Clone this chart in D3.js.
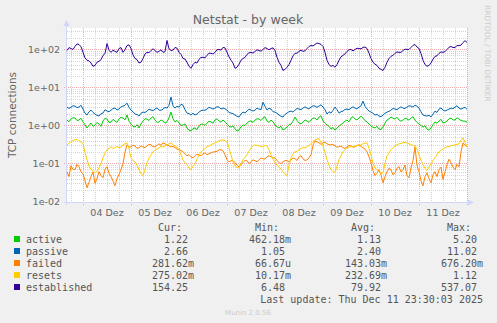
<!DOCTYPE html>
<html><head><meta charset="utf-8">
<script src="https://cdn.jsdelivr.net/npm/d3@7"></script>
<style>html,body{margin:0;padding:0;background:#F0F0F0;}svg{display:block;}</style>
</head><body><svg id="c" width="497" height="323"></svg>
<script>
const title = "Netstat - by week";
const yLabel = "TCP connections";
const seriesNames = ["active","passive","failed","resets","established"];
const seriesColors = ["#00CC00","#0066B3","#FF8000","#FFCC00","#330099"];
const dayLabels = ["04 Dez","05 Dez","06 Dez","07 Dez","08 Dez","09 Dez","10 Dez","11 Dez"];
const yTickValues = [0.01,0.1,1,10,100];
const yTickLabels = ["1e-02","1e-01","1e+00","1e+01","1e+02"];
const curVals = ["1.22","2.66","281.62m","275.02m","154.25"];
const minVals = ["462.18m","1.05","66.67u","10.17m","6.48"];
const avgVals = ["1.13","2.40","143.03m","232.69m","79.92"];
const maxVals = ["5.20","11.02","676.20m","1.12","537.07"];
const lastUpdate = "Last update: Thu Dec 11 23:30:03 2025";
const footer = "Munin 2.0.56";
const sideText = "RRDTOOL / TOBI OETIKER";
// samples at even hours (every 2 h from 2025-12-03 16:00) and at the odd hours in between
const activeEven = [1.39,1.48,1.57,1.39,1.24,0.86,1.16,1.03,1.09,1.31,
1.48,1.24,1.31,1.48,1.57,1.88,1.09,0.91,0.86,1.31,
1.48,1.57,1.39,1.24,1.31,1.24,2.25,1.24,1.16,1.03,
0.86,0.72,0.86,0.97,1.09,1.16,1.24,1.39,1.31,1.39,
1.09,0.91,0.81,0.76,1.03,1.16,1.31,1.39,1.48,1.57,
1.31,1.39,1.03,0.86,0.76,0.91,1.09,1.67,1.16,1.24,
1.31,1.39,1.57,1.67,1.31,1.03,0.81,0.76,0.97,1.16,
1.39,1.57,1.48,1.57,1.57,1.24,0.97,0.86,0.81,0.91,
1.39,1.67,1.48,1.39,1.39,1.48,1.57,1.39,1.09,0.91,
0.81,0.86,1.24,1.31,1.16,1.31,1.57,1.39,1.48,1.31,1.22];
const activeOdd = [1.25,1.60,1.35,1.55,1.05,1.00,0.95,1.20,0.95,1.55,
1.20,1.45,1.20,1.65,1.40,1.30,0.95,1.05,1.10,1.50,
1.35,1.70,1.20,1.40,1.15,1.60,1.50,1.35,1.00,1.10,
0.75,0.82,0.78,1.08,1.00,1.30,1.15,1.50,1.22,1.25,
0.95,0.98,0.72,0.92,1.00,1.28,1.20,1.50,1.35,1.70,
1.20,1.25,0.92,0.95,0.82,1.05,1.30,1.35,1.10,1.40,
1.20,1.55,1.40,1.80,1.15,0.95,0.88,0.85,1.05,1.30,
1.25,1.70,1.40,1.75,1.35,1.10,0.90,0.95,0.78,1.15,
1.50,1.55,1.65,1.30,1.55,1.38,1.70,1.20,1.00,0.98,
0.75,1.05,1.15,1.45,1.20,1.50,1.40,1.60,1.35,1.30];
const passiveEven = [3.05,3.05,3.24,3.05,2.70,1.88,2.54,2.0,1.77,2.12,
2.39,2.54,2.87,2.70,3.24,3.87,2.54,2.0,1.77,2.25,
2.39,2.54,2.70,2.54,2.70,2.87,5.6,2.87,3.05,3.43,
2.12,1.88,1.88,2.25,2.54,2.70,2.87,2.87,3.05,2.87,
2.54,2.12,1.88,1.67,2.25,2.39,2.54,2.54,2.70,4.1,
2.54,2.70,2.25,1.88,1.67,2.12,2.39,2.54,2.70,2.87,
2.87,3.05,3.24,3.24,3.05,2.0,2.12,3.05,2.12,2.39,
2.70,2.87,2.87,3.05,4.37,2.70,2.25,1.88,1.77,1.88,
2.25,2.54,2.70,2.87,2.87,3.05,3.24,3.43,2.87,1.88,
1.77,1.67,2.39,2.70,2.54,2.54,2.87,3.05,2.87,2.87,2.66];
const passiveOdd = [2.80,3.30,2.95,3.40,2.10,2.30,2.20,1.85,2.05,2.60,
2.30,2.80,2.55,3.10,3.40,3.00,2.30,1.95,2.10,2.20,
2.70,2.45,2.90,2.50,3.00,3.40,3.30,3.20,3.60,2.60,
2.05,2.10,2.00,2.45,2.50,3.00,2.70,3.10,2.70,2.75,
2.20,2.05,1.75,2.00,2.15,2.70,2.40,2.85,2.60,3.20,
2.85,2.30,2.10,1.75,1.95,2.30,2.25,2.80,2.60,3.10,
2.75,3.30,3.00,3.50,2.60,2.30,2.50,2.60,2.30,2.65,
2.60,3.10,2.75,3.30,3.20,2.40,2.10,1.95,1.70,2.10,
2.35,2.80,2.60,3.10,2.80,3.30,3.05,3.20,2.30,1.80,
1.85,2.00,2.20,2.90,2.40,2.70,2.75,3.30,2.70,3.00];
const failedEven = [0.061,0.087,0.069,0.082,0.054,0.023,0.045,0.030,0.061,0.042,
0.082,0.045,0.026,0.051,0.098,0.309,0.274,0.29,0.26,0.274,
0.29,0.309,0.274,0.33,0.349,0.309,0.274,0.26,0.229,0.203,
0.16,0.150,0.16,0.169,0.18,0.169,0.191,0.203,0.229,0.216,
0.125,0.118,0.105,0.082,0.105,0.118,0.111,0.118,0.125,0.133,
0.150,0.150,0.141,0.105,0.111,0.118,0.125,0.133,0.150,0.133,
0.125,0.169,0.394,0.349,0.349,0.33,0.309,0.29,0.274,0.26,
0.274,0.29,0.274,0.309,0.26,0.203,0.105,0.048,0.069,0.031,
0.061,0.069,0.057,0.082,0.069,0.048,0.077,0.274,0.061,0.026,
0.057,0.031,0.061,0.069,0.038,0.093,0.105,0.069,0.082,0.349,0.282];
const failedOdd = [0.045,0.070,0.095,0.060,0.035,0.032,0.060,0.040,0.048,0.070,
0.055,0.035,0.040,0.070,0.20,0.27,0.30,0.25,0.29,0.26,
0.32,0.28,0.30,0.30,0.33,0.29,0.28,0.24,0.22,0.18,
0.17,0.14,0.175,0.16,0.19,0.18,0.20,0.21,0.23,0.17,
0.11,0.12,0.09,0.095,0.12,0.10,0.125,0.11,0.14,0.13,
0.16,0.14,0.12,0.10,0.12,0.11,0.14,0.12,0.16,0.12,
0.14,0.30,0.37,0.32,0.36,0.31,0.32,0.27,0.29,0.25,
0.30,0.27,0.30,0.28,0.24,0.15,0.065,0.055,0.05,0.045,
0.075,0.05,0.075,0.06,0.09,0.042,0.12,0.09,0.035,0.045,
0.04,0.05,0.045,0.08,0.06,0.13,0.08,0.095,0.20,0.30];
const resetsEven = [0.309,0.37,0.42,0.394,0.33,0.125,0.069,0.057,0.077,0.141,
0.229,0.274,0.26,0.26,0.309,0.349,0.141,0.111,0.069,0.048,
0.105,0.169,0.229,0.26,0.274,0.309,0.349,0.29,0.229,0.125,
0.093,0.069,0.098,0.169,0.229,0.274,0.309,0.349,0.394,0.42,
0.37,0.169,0.087,0.077,0.125,0.169,0.26,0.309,0.29,0.274,
0.29,0.169,0.105,0.082,0.061,0.048,0.141,0.203,0.229,0.26,
0.274,0.33,0.42,0.444,0.29,0.125,0.069,0.057,0.125,0.203,
0.26,0.274,0.29,0.29,0.33,0.349,0.169,0.077,0.061,0.057,
0.16,0.229,0.29,0.33,0.349,0.349,0.309,0.29,0.169,0.093,
0.065,0.098,0.141,0.203,0.243,0.274,0.29,0.309,0.33,0.47,0.275];
const resetsOdd = [0.34,0.40,0.43,0.37,0.20,0.085,0.065,0.062,0.10,0.19,
0.25,0.25,0.28,0.27,0.33,0.25,0.12,0.09,0.055,0.07,
0.14,0.20,0.24,0.28,0.29,0.33,0.31,0.27,0.17,0.105,
0.075,0.085,0.13,0.20,0.25,0.29,0.33,0.37,0.41,0.40,
0.26,0.11,0.078,0.10,0.145,0.21,0.29,0.30,0.28,0.30,
0.23,0.13,0.09,0.07,0.052,0.09,0.18,0.21,0.25,0.26,
0.30,0.38,0.44,0.36,0.19,0.09,0.062,0.085,0.16,0.23,
0.27,0.28,0.30,0.31,0.34,0.25,0.10,0.068,0.055,0.10,
0.19,0.26,0.31,0.34,0.36,0.33,0.30,0.24,0.12,0.075,
0.08,0.12,0.17,0.22,0.26,0.28,0.30,0.32,0.40,0.36];
const establishedEven = [94,106,120,135,84,52,44,38,49,70,
143,84,89,106,84,127,106,58,44,58,
84,94,94,89,84,172,94,113,84,58,
46,32,46,55,62,70,79,84,100,113,
84,52,32,41,58,74,84,89,94,100,
106,106,94,46,28,34,52,79,89,89,
106,127,135,143,120,52,36,34,52,70,
89,100,100,106,113,106,58,41,32,28,
46,66,79,84,94,100,113,135,106,52,
36,44,66,79,84,100,120,113,127,152,154];
const establishedOdd = [112,100,140,118,60,50,36,46,54,78,
96,96,84,112,98,132,72,54,46,76,
82,104,84,98,88,104,96,108,74,56,
36,40,44,62,60,80,76,98,96,110,
64,44,34,52,62,82,80,98,90,112,
98,110,62,38,30,40,68,80,96,92,
120,124,148,136,84,40,38,40,64,76,
98,92,108,104,116,80,46,38,30,34,
58,70,86,84,102,100,128,116,78,40,
38,56,68,86,88,114,112,126,130,170];

function merge(ev, od){ return d3.range(ev.length + od.length).map(j => j%2===0 ? ev[j/2] : od[(j-1)/2]); }
const seriesData = [merge(activeEven,activeOdd), merge(passiveEven,passiveOdd), merge(failedEven,failedOdd),
  merge(resetsEven,resetsOdd), merge(establishedEven,establishedOdd)];

const H = 3600*1000;
const t0 = Date.UTC(2025,11,3,16,0,0);
const t1 = Date.UTC(2025,11,12,0,0,0);
const L=67,R=467,T=28,B=201.5;
const svg = d3.select("#c");
svg.append("rect").attr("width",497).attr("height",323).attr("fill","#F0F0F0");
const x = d3.scaleUtc().domain([t0,t1]).range([L,R]);
const y = d3.scaleLog().domain([0.01,367]).range([B,T]);
svg.append("rect").attr("x",L).attr("y",T).attr("width",R-L).attr("height",202.5-T).attr("fill","#FFFFFF");

const g = svg.append("g");
const minorC = "#D4D4D4", majorC = "#EAAAAA";
const hours6 = d3.utcHour.every(6).range(t0, t1+1);
hours6.forEach(t=>{
  const major = new Date(t).getUTCHours()===0;
  g.append("line").attr("x1",Math.round(x(t))+0.5).attr("x2",Math.round(x(t))+0.5)
   .attr("y1",T).attr("y2",major?205:202.5)
   .attr("stroke",major?majorC:minorC).attr("stroke-width",1)
   .attr("stroke-dasharray","1,1");
});
for (let d=-2; d<=2; d++){
  for (let m=2; m<=9; m++){
    const v = m*Math.pow(10,d);
    if (v>367) continue;
    const yy = Math.round(y(v))+0.5;
    g.append("line").attr("x1",L).attr("x2",R).attr("y1",yy).attr("y2",yy)
     .attr("stroke",minorC).attr("stroke-dasharray","1,1");
  }
}
yTickValues.forEach(v=>{
  const yy = Math.round(y(v))+0.5;
  g.append("line").attr("x1",L-3).attr("x2",R).attr("y1",yy).attr("y2",yy)
   .attr("stroke",majorC).attr("stroke-dasharray","1,1");
});
const axisColor="#CFD6F8";
svg.append("line").attr("x1",66.5).attr("x2",66.5).attr("y1",205).attr("y2",23).attr("stroke",axisColor);
svg.append("line").attr("x1",64).attr("x2",470).attr("y1",202.5).attr("y2",202.5).attr("stroke",axisColor);
svg.append("path").attr("d","M63.5,26 L69.5,26 L66.5,20 Z").attr("fill",axisColor);
svg.append("path").attr("d","M468,199.5 L468,205.5 L474,202.5 Z").attr("fill",axisColor);

const line = d3.line().x((d,i)=>x(t0+i*H)).y(d=>y(d));
seriesData.forEach((s,k)=>{
  svg.append("path").datum(s).attr("d",line).attr("fill","none")
   .attr("stroke",seriesColors[k]).attr("stroke-width",1);
});

const font="DejaVu Sans, sans-serif";
const mono="DejaVu Sans Mono, monospace";
svg.append("text").attr("x",248).attr("y",23.5).attr("text-anchor","middle")
 .attr("font-family",font).attr("font-size",12.5).attr("fill","#666").text(title);
svg.append("text").attr("transform","translate(16,115) rotate(-90)").attr("text-anchor","middle")
 .attr("font-family",font).attr("font-size",10.5).attr("fill","#666").text(yLabel);
svg.append("text").attr("transform","translate(484.5,5) rotate(90)").attr("text-anchor","start")
 .attr("font-family",font).attr("font-size",7.5).attr("fill","#CCCCCC").text(sideText);
yTickValues.forEach((v,i)=>{
  svg.append("text").attr("x",60).attr("y",y(v)+3.5).attr("text-anchor","end")
   .attr("font-family",font).attr("font-size",9.5).attr("fill","#666").text(yTickLabels[i]);
});
dayLabels.forEach((lab,i)=>{
  const t = Date.UTC(2025,11,4+i,12,0,0);
  svg.append("text").attr("x",x(t)).attr("y",216).attr("text-anchor","middle")
   .attr("font-family",font).attr("font-size",9.5).attr("fill","#666").text(lab);
});
const colEdges=[188,285,381,477];
const headers=["Cur:","Min:","Avg:","Max:"];
headers.forEach((h,j)=>{
  svg.append("text").attr("x",colEdges[j]-6).attr("y",231).attr("text-anchor","end")
   .attr("font-family",mono).attr("font-size",10).attr("fill","#555").text(h);
});
const cols=[curVals,minVals,avgVals,maxVals];
seriesNames.forEach((n,k)=>{
  const yy = 243+12*k;
  svg.append("rect").attr("x",14).attr("y",yy-7).attr("width",6).attr("height",6).attr("fill",seriesColors[k]);
  svg.append("text").attr("x",26).attr("y",yy).attr("font-family",mono).attr("font-size",10).attr("fill","#555").text(n);
  cols.forEach((c,j)=>{
    const s=c[k]; const last=s[s.length-1];
    const hasSuf = /[a-zA-Z]/.test(last);
    const num = hasSuf? s.slice(0,-1): s;
    svg.append("text").attr("x",colEdges[j]).attr("y",yy).attr("text-anchor","end")
     .attr("font-family",mono).attr("font-size",10).attr("fill","#555").text(num);
    if(hasSuf) svg.append("text").attr("x",colEdges[j]).attr("y",yy)
     .attr("font-family",mono).attr("font-size",10).attr("fill","#555").text(last);
  });
});
svg.append("text").attr("x",483).attr("y",303).attr("text-anchor","end")
 .attr("font-family",mono).attr("font-size",10).attr("fill","#555").text(lastUpdate);
svg.append("text").attr("x",248).attr("y",315).attr("text-anchor","middle")
 .attr("font-family",font).attr("font-size",7).attr("fill","#CCCCCC").text(footer);
</script></body></html>
